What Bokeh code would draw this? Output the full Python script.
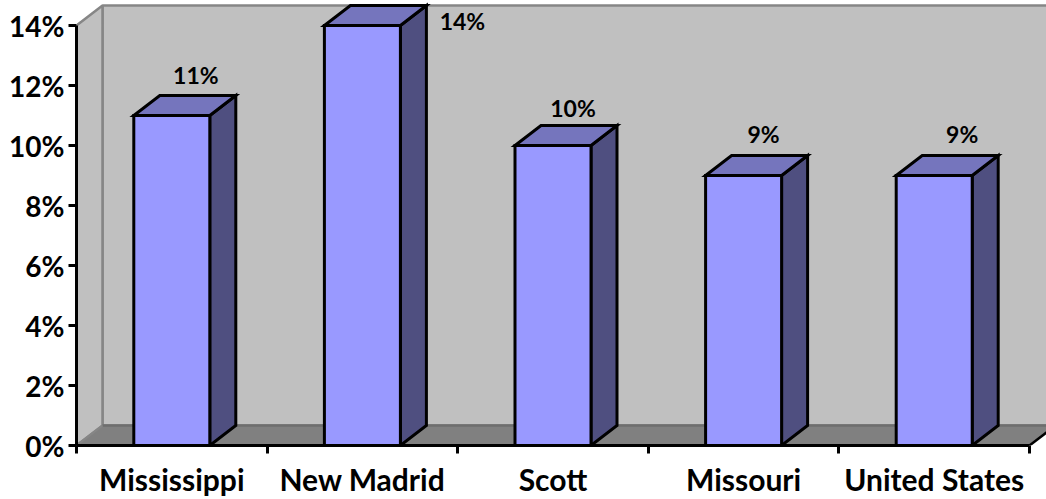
from bokeh.core.properties import value
from bokeh.embed import file_html
from bokeh.models import ColumnDataSource, FixedTicker, Range1d
from bokeh.plotting import figure
from bokeh.resources import INLINE

# Share of the population by area, in percent
categories = ["Mississippi", "New Madrid", "Scott", "Missouri", "United States"]
values = [11, 14, 10, 9, 9]
value_labels = ["11%", "14%", "10%", "9%", "9%"]
y_ticks = [0, 2, 4, 6, 8, 10, 12, 14]

# Pixel scale of the plotting frame and the oblique depth of the 3D projection
WIDTH, HEIGHT = 1046, 499
LEFT, BOTTOM = 76, 54
PX_PER_CAT = 953 / len(categories)
PX_PER_PCT = 30
DX = 26 / PX_PER_CAT
DY = 20 / PX_PER_PCT
BAR_W = 76 / PX_PER_CAT
Y_MAX = y_ticks[-1]
N = len(categories)

# Hand-placed offsets of the value labels from the back top centre of each bar
label_dx = [24, 100, 20, 20, 28]
label_dy = [21, -15, 18, 22, 22]

FRONT, TOP, SIDE = "#9999FF", "#7575BD", "#4F4F80"
WALL, FLOOR, WALL_EDGE = "#C0C0C0", "#808080", "#868686"
FONT = "Lato"

p = figure(
    width=WIDTH, height=HEIGHT, output_backend="svg", toolbar_location=None,
    x_range=Range1d(0, (WIDTH - LEFT) / PX_PER_CAT),
    y_range=Range1d(0, (HEIGHT - BOTTOM) / PX_PER_PCT),
    min_border_left=LEFT, min_border_right=0, min_border_top=0, min_border_bottom=BOTTOM,
    outline_line_color=None, background_fill_color="white", border_fill_color="white",
)
p.grid.visible = False

# Back wall, side wall and floor of the chart box
p.patch([DX, N + 2, N + 2, DX], [DY, DY, Y_MAX + DY, Y_MAX + DY],
        fill_color=WALL, line_color=WALL_EDGE, line_width=2.5)
p.patch([0, DX, DX, 0], [0, DY, Y_MAX + DY, Y_MAX],
        fill_color=WALL, line_color=WALL_EDGE, line_width=2.5)
p.patch([0, DX, N + DX, N], [0, DY, DY, 0],
        fill_color=FLOOR, line_color=None)
p.line([DX, N + 2], [DY, DY], line_color="#6E6E6E", line_width=2.5)
p.line([0, DX], [0, DY], line_color=WALL_EDGE, line_width=2)
p.line([N, N + DX], [0, DY], line_color="black", line_width=2.5)

# Three visible faces of each column
for i, v in enumerate(values):
    x0 = i + 0.5 - BAR_W / 2
    x1 = x0 + BAR_W
    faces = [
        ([x1, x1 + DX, x1 + DX, x1], [0, DY, v + DY, v], SIDE),
        ([x0, x0 + DX, x1 + DX, x1], [v, v + DY, v + DY, v], TOP),
        ([x0, x1, x1, x0], [0, 0, v, v], FRONT),
    ]
    for xs, ys, colour in faces:
        p.patch(xs, ys, fill_color=colour, line_color="black", line_width=3,
                line_join="miter")

labels = ColumnDataSource(dict(
    x=[i + 0.5 for i in range(N)],
    y=[v + DY for v in values],
    text=value_labels,
    dx=label_dx,
    dy=[-d for d in label_dy],
))
p.text("x", "y", text="text", source=labels, x_offset="dx", y_offset="dy",
       text_font=value(FONT), text_font_style="bold", text_font_size="23px",
       text_color="#000000", text_align="center", text_baseline="middle")

# Value axis
yaxis = p.yaxis[0]
yaxis.ticker = FixedTicker(ticks=y_ticks)
yaxis.major_label_overrides = {t: f"{t}%" for t in y_ticks}
yaxis.bounds = (0, Y_MAX)
yaxis.axis_line_color = "black"
yaxis.axis_line_width = 3
yaxis.major_tick_line_color = "black"
yaxis.major_tick_line_width = 3
yaxis.major_tick_in = 0
yaxis.major_tick_out = 8
yaxis.minor_tick_line_color = None
yaxis.major_label_standoff = 4
yaxis.major_label_text_font = FONT
yaxis.major_label_text_font_style = "bold"
yaxis.major_label_text_font_size = "28px"
yaxis.major_label_text_color = "#000000"

# Category axis: labels sit mid-slot, tick marks on the slot boundaries
xaxis = p.xaxis[0]
centres = [i + 0.5 for i in range(N)]
xaxis.ticker = FixedTicker(ticks=centres, minor_ticks=list(range(N + 1)))
xaxis.major_label_overrides = dict(zip(centres, categories))
xaxis.bounds = (0, N)
xaxis.axis_line_color = "black"
xaxis.axis_line_width = 3
xaxis.major_tick_line_color = None
xaxis.major_tick_in = 0
xaxis.major_tick_out = 0
xaxis.minor_tick_line_color = "black"
xaxis.minor_tick_line_width = 3
xaxis.minor_tick_in = 0
xaxis.minor_tick_out = 8
xaxis.major_label_standoff = 7
xaxis.major_label_text_font = FONT
xaxis.major_label_text_font_style = "bold"
xaxis.major_label_text_font_size = "30px"
xaxis.major_label_text_color = "#000000"

open("out.html", "w").write(file_html(p, INLINE))
